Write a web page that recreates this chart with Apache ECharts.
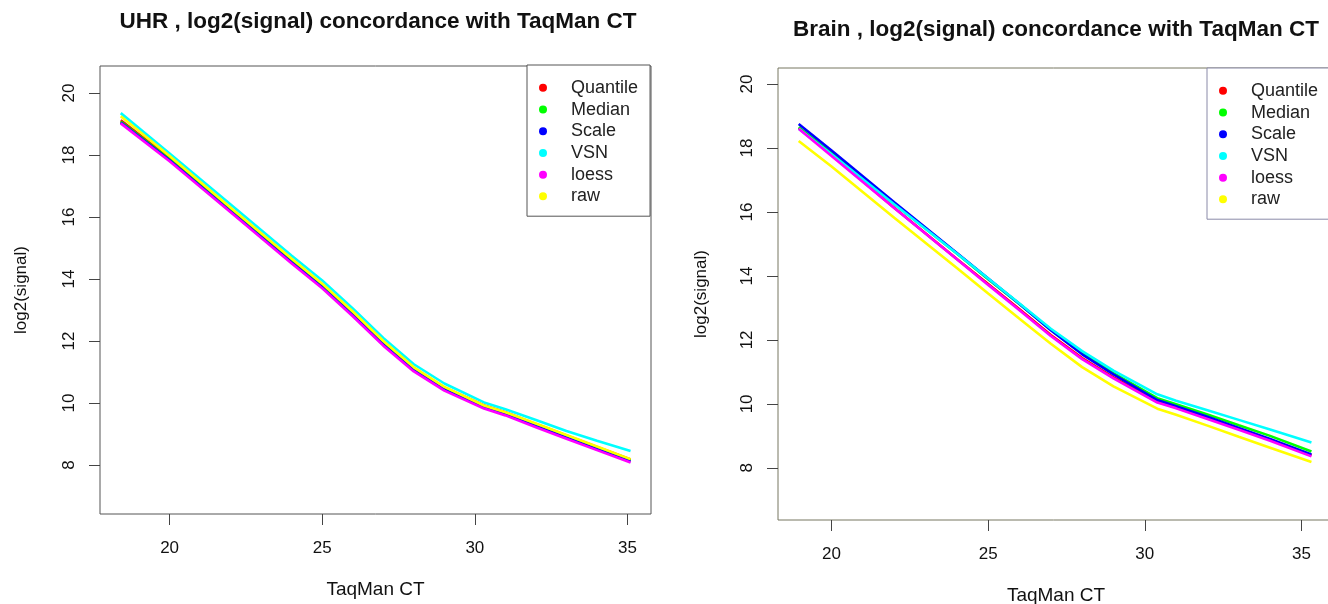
<!DOCTYPE html>
<html>
<head>
<meta charset="utf-8">
<script src="https://cdn.jsdelivr.net/npm/echarts@6/dist/echarts.min.js"></script>
<style>
html,body{margin:0;padding:0;background:#fff;}
#chart{width:1328px;height:604px;}
</style>
</head>
<body>
<div id="chart"></div>
<script>
// ---- data ----
const seriesNames = ['Quantile', 'Median', 'Scale', 'VSN', 'loess', 'raw'];
const seriesColors = ['#FF0000', '#00FF00', '#0000FF', '#00FFFF', '#FF00FF', '#FFFF00'];
const xTicks = [20, 25, 30, 35];
const yTicks = [8, 10, 12, 14, 16, 18, 20];

// UHR panel
const uhrCT       = [18.4, 20, 22, 24, 25, 26, 27, 28, 29, 30.3, 31, 32, 33, 34, 35.1];
const uhrQuantile = [19.12, 17.90, 16.25, 14.60, 13.80, 12.90, 11.95, 11.12, 10.50, 9.92, 9.70, 9.32, 8.95, 8.58, 8.18];
const uhrMedian   = [19.08, 17.86, 16.21, 14.56, 13.76, 12.86, 11.91, 11.08, 10.46, 9.88, 9.66, 9.28, 8.91, 8.54, 8.14];
const uhrScale    = [19.05, 17.83, 16.18, 14.53, 13.73, 12.83, 11.88, 11.05, 10.43, 9.85, 9.63, 9.25, 8.88, 8.51, 8.11];
const uhrVSN      = [19.35, 18.05, 16.40, 14.75, 13.95, 13.05, 12.10, 11.25, 10.63, 10.02, 9.80, 9.45, 9.10, 8.78, 8.45];
const uhrLoess    = [19.02, 17.80, 16.15, 14.50, 13.70, 12.80, 11.85, 11.02, 10.40, 9.82, 9.60, 9.22, 8.85, 8.48, 8.08];
const uhrRaw      = [19.25, 17.97, 16.30, 14.65, 13.85, 12.95, 12.00, 11.15, 10.52, 9.92, 9.70, 9.34, 8.97, 8.60, 8.19];

// Brain panel
const brainCT       = [18.95, 20, 22, 24, 25, 26, 27, 28, 29, 30.4, 31, 32, 33, 34, 35.32];
const brainQuantile = [18.63, 17.78, 16.13, 14.53, 13.75, 12.96, 12.15, 11.43, 10.83, 10.07, 9.89, 9.56, 9.22, 8.88, 8.39];
const brainMedian   = [18.65, 17.84, 16.26, 14.70, 13.90, 13.12, 12.32, 11.58, 10.96, 10.18, 9.99, 9.67, 9.33, 9.00, 8.51];
const brainScale    = [18.75, 17.92, 16.30, 14.72, 13.92, 13.12, 12.30, 11.55, 10.92, 10.12, 9.93, 9.60, 9.25, 8.90, 8.42];
const brainVSN      = [18.60, 17.80, 16.24, 14.70, 13.92, 13.14, 12.35, 11.65, 11.04, 10.30, 10.10, 9.80, 9.50, 9.20, 8.79];
const brainLoess    = [18.60, 17.75, 16.12, 14.52, 13.72, 12.93, 12.12, 11.40, 10.80, 10.04, 9.86, 9.53, 9.19, 8.85, 8.36];
const brainRaw      = [18.22, 17.42, 15.82, 14.25, 13.45, 12.66, 11.88, 11.15, 10.55, 9.85, 9.66, 9.32, 8.97, 8.63, 8.18];

const uhrSeries = [uhrQuantile, uhrMedian, uhrScale, uhrVSN, uhrLoess, uhrRaw];
const brainSeries = [brainQuantile, brainMedian, brainScale, brainVSN, brainLoess, brainRaw];

const titles = ['UHR , log2(signal) concordance with TaqMan CT', 'Brain , log2(signal) concordance with TaqMan CT'];
const xName = 'TaqMan CT';
const yName = 'log2(signal)';

// ---- chart ----
const FONT = '"Liberation Sans", Arial, sans-serif';
const TEXT = '#111';
const chart = echarts.init(document.getElementById('chart'), null, {renderer: 'canvas'});

function zip(xs, ys) { return xs.map((x, i) => [x, ys[i]]); }

function xAxis(gridIndex, min, max) {
  return {
    type: 'value', gridIndex, min, max,
    name: xName, nameLocation: 'middle', nameGap: 66,
    nameTextStyle: {fontFamily: FONT, fontSize: 19, color: TEXT},
    axisLine: {show: false},
    splitLine: {show: false},
    axisTick: {show: true, inside: false, length: 11, customValues: xTicks, lineStyle: {color: '#444', width: 1}},
    axisLabel: {customValues: xTicks, margin: 26, fontFamily: FONT, fontSize: 17, color: TEXT}
  };
}
function yAxis(gridIndex, min, max, gap) {
  return {
    type: 'value', gridIndex, min, max,
    name: yName, nameLocation: 'middle', nameGap: gap,
    nameTextStyle: {fontFamily: FONT, fontSize: 17, color: TEXT},
    axisLine: {show: false},
    splitLine: {show: false},
    axisTick: {show: true, inside: false, length: 11, customValues: yTicks, lineStyle: {color: '#444', width: 1}},
    axisLabel: {customValues: yTicks, rotate: 90, margin: 22, fontFamily: FONT, fontSize: 17, color: TEXT}
  };
}
function legend(left, top, borderColor) {
  return {
    orient: 'vertical', left, top,
    data: seriesNames,
    icon: 'circle', itemWidth: 8, itemHeight: 8, itemGap: 0,
    padding: [12, 12, 9, 12],
    borderColor, borderWidth: 1, backgroundColor: '#fff',
    selectedMode: false,
    textStyle: {fontFamily: FONT, fontSize: 18, color: '#222', lineHeight: 21.7, padding: [0, 0, 0, 19]}
  };
}

const series = [];
seriesNames.forEach((name, i) => {
  series.push({
    name, type: 'line', xAxisIndex: 0, yAxisIndex: 0,
    data: zip(uhrCT, uhrSeries[i]), showSymbol: false, symbol: 'circle',
    itemStyle: {color: seriesColors[i]},
    lineStyle: {color: seriesColors[i], width: 2.6}, z: 2 + i
  });
});
seriesNames.forEach((name, i) => {
  series.push({
    name, type: 'line', xAxisIndex: 1, yAxisIndex: 1,
    data: zip(brainCT, brainSeries[i]), showSymbol: false, symbol: 'circle',
    itemStyle: {color: seriesColors[i]},
    lineStyle: {color: seriesColors[i], width: 2.6}, z: 2 + i
  });
});

chart.setOption({
  animation: false,
  backgroundColor: '#fff',
  title: [
    {text: titles[0], left: 373, top: 5, textAlign: 'center',
     textStyle: {fontFamily: FONT, fontSize: 22.5, fontWeight: 'bold', color: TEXT}},
    {text: titles[1], left: 1051, top: 13, textAlign: 'center',
     textStyle: {fontFamily: FONT, fontSize: 22.5, fontWeight: 'bold', color: TEXT}}
  ],
  legend: [legend(527, 65, '#555'), legend(1207, 68, '#8a8aa8')],
  grid: [
    {left: 100, top: 66, width: 551, height: 448, show: true, borderColor: '#555', borderWidth: 1,
     backgroundColor: 'transparent', outerBoundsMode: 'none', containLabel: false},
    {left: 778, top: 68, width: 556, height: 452, show: true, borderColor: '#777760', borderWidth: 1,
     backgroundColor: 'transparent', outerBoundsMode: 'none', containLabel: false}
  ],
  xAxis: [xAxis(0, 17.72, 35.77), xAxis(1, 18.29, 36.04)],
  yAxis: [yAxis(0, 6.42, 20.87, 70), yAxis(1, 6.37, 20.5, 68)],
  series
});
</script>
</body>
</html>
